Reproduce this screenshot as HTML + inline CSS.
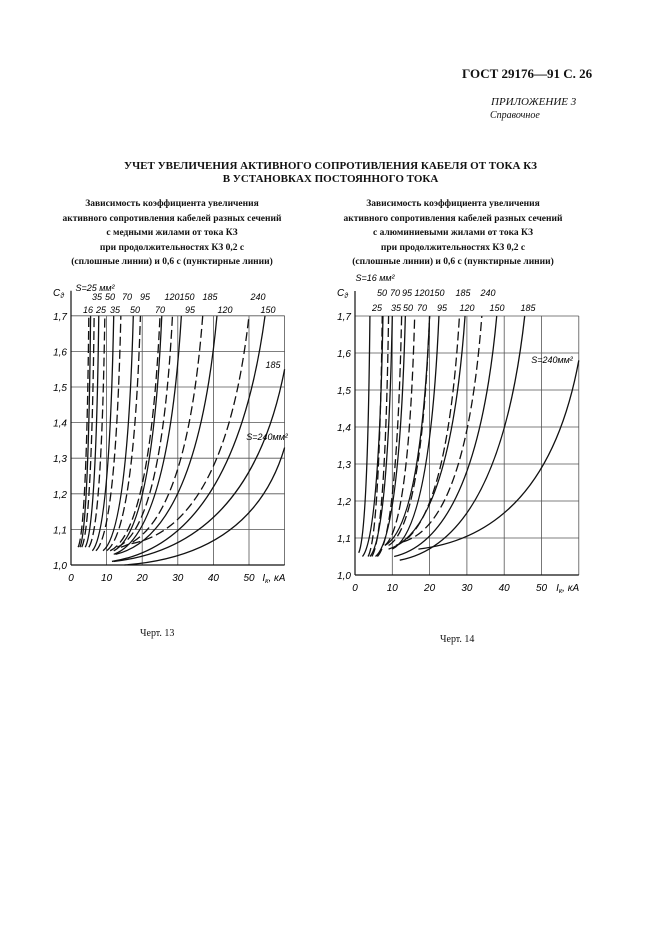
<!DOCTYPE html>
<html><head><meta charset="utf-8"><style>
body{margin:0;width:661px;height:936px;background:#fff;position:relative;overflow:hidden;font-family:"Liberation Serif",serif;color:#111}
.t{position:absolute;white-space:nowrap}
.b{font-weight:bold}
.c{text-align:center}
svg{position:absolute;left:0;top:0}
</style></head><body>
<div class="t b" style="left:462px;top:66px;font-size:13px">ГОСТ 29176—91 С. 26</div>
<div class="t" style="left:491px;top:96px;font-size:11px;font-style:italic">ПРИЛОЖЕНИЕ 3</div>
<div class="t" style="left:490px;top:110px;font-size:10px;font-style:italic">Справочное</div>
<div class="t b c" style="left:0;width:661px;top:160px;font-size:11px;line-height:13px">УЧЕТ УВЕЛИЧЕНИЯ АКТИВНОГО СОПРОТИВЛЕНИЯ КАБЕЛЯ ОТ ТОКА КЗ<br>В УСТАНОВКАХ ПОСТОЯННОГО ТОКА</div>
<div class="t b c" style="left:22px;width:300px;top:197px;font-size:9.5px;line-height:14.5px">Зависимость коэффициента увеличения<br>активного сопротивления кабелей разных сечений<br>с медными жилами от тока КЗ<br>при продолжительностях КЗ 0,2 с<br>(сплошные линии) и 0,6 с (пунктирные линии)</div>
<div class="t b c" style="left:303px;width:300px;top:197px;font-size:9.5px;line-height:14.5px">Зависимость коэффициента увеличения<br>активного сопротивления кабелей разных сечений<br>с алюминиевыми жилами от тока КЗ<br>при продолжительностях КЗ 0,2 с<br>(сплошные линии) и 0,6 с (пунктирные линии)</div>
<div class="t" style="left:140px;top:628px;font-size:10px">Черт. 13</div>
<div class="t" style="left:440px;top:634px;font-size:10px">Черт. 14</div>
<svg id="s" width="661" height="936" font-family="Liberation Sans, sans-serif" font-style="italic" font-size="10"></svg>
<script>
var s=document.getElementById('s'),h='';
function chart(ox,oy,sx,sy,solid,dash,labels){
  var X=function(v){return ox+v*sx},Y=function(c){return oy-(c-1)*10*sy};
  for(var i=1;i<=6;i++){h+='<line x1="'+X(i*10)+'" y1="'+Y(1)+'" x2="'+X(i*10)+'" y2="'+Y(1.7)+'" stroke="#555" stroke-width="0.8"/>';}
  for(var j=1;j<=7;j++){var c=1+j/10;h+='<line x1="'+X(0)+'" y1="'+Y(c)+'" x2="'+X(60)+'" y2="'+Y(c)+'" stroke="#555" stroke-width="0.8"/>';}
  h+='<line x1="'+X(0)+'" y1="'+Y(1)+'" x2="'+X(60)+'" y2="'+Y(1)+'" stroke="#111" stroke-width="1.2"/>';
  h+='<line x1="'+X(0)+'" y1="'+Y(1)+'" x2="'+X(0)+'" y2="'+(Y(1.7)-25)+'" stroke="#111" stroke-width="1.2"/>';
  for(var j=0;j<=7;j++){h+='<text x="'+(X(0)-4)+'" y="'+(Y(1+j/10)+4)+'" text-anchor="end">'+(j==0?'1,0':'1,'+j)+'</text>';}
  for(var i=0;i<=5;i++){h+='<text x="'+X(i*10)+'" y="'+(Y(1)+16)+'" text-anchor="middle">'+(i*10)+'</text>';}
  h+='<text x="'+(X(57))+'" y="'+(Y(1)+16)+'" text-anchor="middle">I<tspan font-size="7" dy="2">к</tspan><tspan dy="-2">, кА</tspan></text>';
  h+='<text x="'+(X(0)-18)+'" y="'+(Y(1.7)-20)+'">C<tspan font-size="7" dy="2">ϑ</tspan></text>';
  function cur(a,d){var x0=a[0],y0=a[1],x1=a[2],y1=a[3]||1.7;
    var cx=x0+0.8*(x1-x0),cy=y0+0.08*(y1-y0);
    h+='<path d="M'+X(x0)+' '+Y(y0)+' Q'+X(cx)+' '+Y(cy)+' '+X(x1)+' '+Y(y1)+'" fill="none" stroke="#111" stroke-width="1.3"'+(d?' stroke-dasharray="9,4"':'')+'/>';}
  solid.forEach(function(a){cur(a,0)});dash.forEach(function(a){cur(a,1)});
  labels.forEach(function(l){h+='<text x="'+l[0]+'" y="'+l[1]+'" font-size="9" text-anchor="middle">'+l[2]+'</text>'});
}
chart(71,565,3.56,35.6,
 [[2.5,1.05,5.5],[4,1.05,7.8],[6,1.04,12],[9,1.04,17.5],[12,1.04,25.5],[12,1.03,31],[12.5,1.03,41],[11.5,1.01,54.5],[12,1.01,60,1.55],[15,1.0,60,1.33]],
 [[2,1.05,5],[3,1.05,6.5],[5,1.05,9.5],[7,1.04,14],[10,1.04,19.5],[11,1.04,25],[13,1.05,28.5],[14,1.05,37],[17,1.06,50]],
 [[95,291,'S=25 мм²'],[97,300,'35'],[110,300,'50'],[127,300,'70'],[145,300,'95'],[172,300,'120'],[187,300,'150'],[210,300,'185'],[258,300,'240'],[88,313,'16'],[101,313,'25'],[115,313,'35'],[135,313,'50'],[160,313,'70'],[190,313,'95'],[225,313,'120'],[268,313,'150'],[273,368,'185'],[267,440,'S=240мм²']]);
chart(355,575,3.73,37.0,
 [[1,1.06,4],[2,1.05,7.5],[4,1.05,10],[5.5,1.05,13.5],[8,1.08,20],[10,1.07,22.5],[9,1.07,29.5],[10.5,1.05,38],[12,1.04,45.5],[17,1.07,60,1.58]],
 [[3.5,1.05,7.3],[4.5,1.05,9],[6,1.05,12.5],[8,1.08,16],[9,1.08,20],[11,1.08,28],[13,1.09,34]],
 [[375,281,'S=16 мм²'],[382,296,'50'],[395,296,'70'],[407,296,'95'],[422,296,'120'],[437,296,'150'],[463,296,'185'],[488,296,'240'],[377,311,'25'],[396,311,'35'],[408,311,'50'],[422,311,'70'],[442,311,'95'],[467,311,'120'],[497,311,'150'],[528,311,'185'],[552,363,'S=240мм²']]);
s.innerHTML=h;
</script>
</body></html>
